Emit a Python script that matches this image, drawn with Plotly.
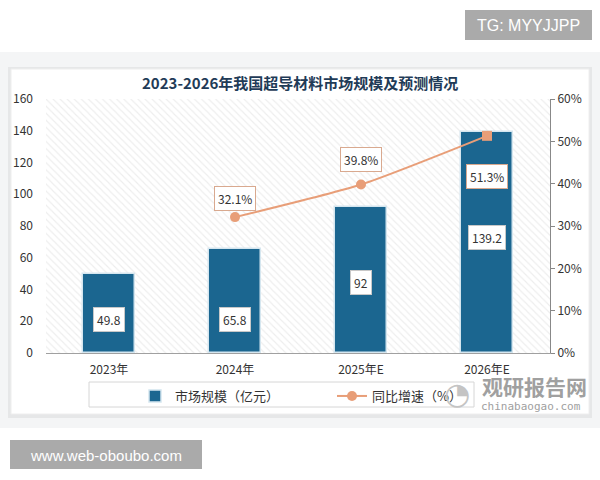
import plotly.graph_objects as go

categories = ["2023年", "2024年", "2025年E", "2026年E"]
market_size = [49.8, 65.8, 92, 139.2]
growth_pct = [None, 32.1, 39.8, 51.3]
size_labels = ["49.8", "65.8", "92", "139.2"]
growth_labels = [None, "32.1%", "39.8%", "51.3%"]
left_ticks = [0, 20, 40, 60, 80, 100, 120, 140, 160]
right_ticks = [0, 10, 20, 30, 40, 50, 60]

# styling helpers (label placement)
size_label_y = [21.4, 21.4, 44.3, 73]
growth_label_shift = [0, 19, 25, -41]

W, H = 600, 480
FONT = "Noto Sans CJK SC"
BAR = "#1B6690"
LINE = "#E89E78"

xs = list(range(len(categories)))

fig = go.Figure()

# hatched plot background
fig.add_trace(go.Bar(
    x=[(xs[0] + xs[-1]) / 2], y=[left_ticks[-1]], width=[len(xs)],
    marker=dict(color="#ffffff", line=dict(width=0),
                pattern=dict(shape="\\", fgcolor="#dcdcdc", bgcolor="#ffffff", size=5, solidity=0.22)),
    showlegend=False, hoverinfo="skip"))

fig.add_trace(go.Bar(
    x=xs, y=market_size, width=0.42, name="市场规模（亿元）",
    marker=dict(color=BAR, line=dict(color="#d5e6ef", width=1.5))))

fig.add_trace(go.Scatter(
    x=xs, y=growth_pct, yaxis="y2", name="同比增速（%）", mode="lines+markers",
    line=dict(color=LINE, width=2, shape="spline", smoothing=0.6),
    marker=dict(color=LINE, size=10, symbol=["circle", "circle", "circle", "square"]),
    connectgaps=False))

annotations = []
for xi, yl, t in zip(xs, size_label_y, size_labels):
    annotations.append(dict(x=xi, y=yl, xref="x", yref="y", text=t, showarrow=False,
                            font=dict(family=FONT, size=12, color="#333333"),
                            bgcolor="#ffffff", bordercolor="#c8c8c8", borderwidth=1, borderpad=3))
for xi, yv, t, sh in zip(xs, growth_pct, growth_labels, growth_label_shift):
    if yv is None:
        continue
    annotations.append(dict(x=xi, y=yv, xref="x", yref="y2", text=t, showarrow=False, yshift=sh,
                            font=dict(family=FONT, size=12, color="#333333"),
                            bgcolor="#ffffff", bordercolor="#d9a98f", borderwidth=1, borderpad=3))


def ptext(x, y, text, size, color, family=FONT):
    return dict(x=x / W, y=1 - y / H, xref="paper", yref="paper", text=text, showarrow=False,
                xanchor="center", yanchor="middle", font=dict(family=family, size=size, color=color))


annotations += [
    ptext(300, 83, "<b>2023-2026年我国超导材料市场规模及预测情况</b>", 15, "#1F3B57"),
    ptext(528, 25, "TG: MYYJJPP", 16, "#ffffff", "Liberation Sans"),
    ptext(106, 455, "www.web-oboubo.com", 15, "#ffffff", "Liberation Sans"),
    ptext(534, 386, "<b>观研报告网</b>", 21, "#a0a0a0"),
    ptext(531, 406, "chinabaogao.com", 11, "#a0a0a0", "DejaVu Sans Mono"),
    ptext(457, 393, "◔", 30, "#c4c4c4", "DejaVu Sans"),
]


def rect(x0, y0, x1, y1, fill, line=None, layer="below"):
    return dict(type="rect", xref="paper", yref="paper", x0=x0 / W, x1=x1 / W,
                y0=1 - y1 / H, y1=1 - y0 / H, fillcolor=fill, layer=layer,
                line=dict(width=1 if line else 0, color=line or fill))


shapes = [
    rect(0, 52, 600, 428, "#f4f5f6"),
    rect(8, 67, 592, 418, "#e6e7e8"),
    rect(11, 69, 589, 414, "#ffffff", "#eeeeee"),
    rect(89, 382, 474, 407, "#ffffff", "#d6d6d6"),
    rect(465, 10, 592, 40, "#aaaaaa"),
    rect(10, 440, 202, 469, "#aaaaaa"),
]

fig.update_layout(
    width=W, height=H, margin=dict(l=0, r=0, t=0, b=0, pad=0, autoexpand=False),
    paper_bgcolor="#ffffff", plot_bgcolor="rgba(0,0,0,0)",
    barmode="overlay", bargap=0,
    font=dict(family=FONT, size=12, color="#333333"),
    xaxis=dict(domain=[46 / W, 550 / W], range=[-0.5, 3.5], tickvals=xs, ticktext=categories,
               showgrid=False, zeroline=False, showline=True, linecolor="#a0a0a0", linewidth=1,
               ticks="", ticklabelstandoff=6, automargin=False, tickfont=dict(size=12, color="#333333")),
    yaxis=dict(domain=[1 - 353 / H, 1 - 99 / H], range=[0, 160], tickvals=left_ticks,
               showgrid=False, zeroline=False, showline=False, ticks="", automargin=False,
               ticklabelstandoff=12, tickfont=dict(size=12, color="#333333")),
    yaxis2=dict(overlaying="y", side="right", range=[0, 60], tickvals=right_ticks,
                ticktext=[f"{v}%" for v in right_ticks], showgrid=False, zeroline=False,
                showline=True, linecolor="#888888", linewidth=1, ticks="outside", ticklen=4,
                automargin=False, tickcolor="#888888", tickfont=dict(size=12, color="#333333")),
    legend=dict(orientation="h", x=135 / W, xanchor="left", y=1 - 381 / H, yanchor="top",
                bgcolor="rgba(0,0,0,0)", borderwidth=0, entrywidth=152, entrywidthmode="pixels",
                font=dict(family=FONT, size=13, color="#333333")),
    showlegend=True,
    annotations=annotations,
    shapes=shapes,
)

fig.write_html("out.html")
